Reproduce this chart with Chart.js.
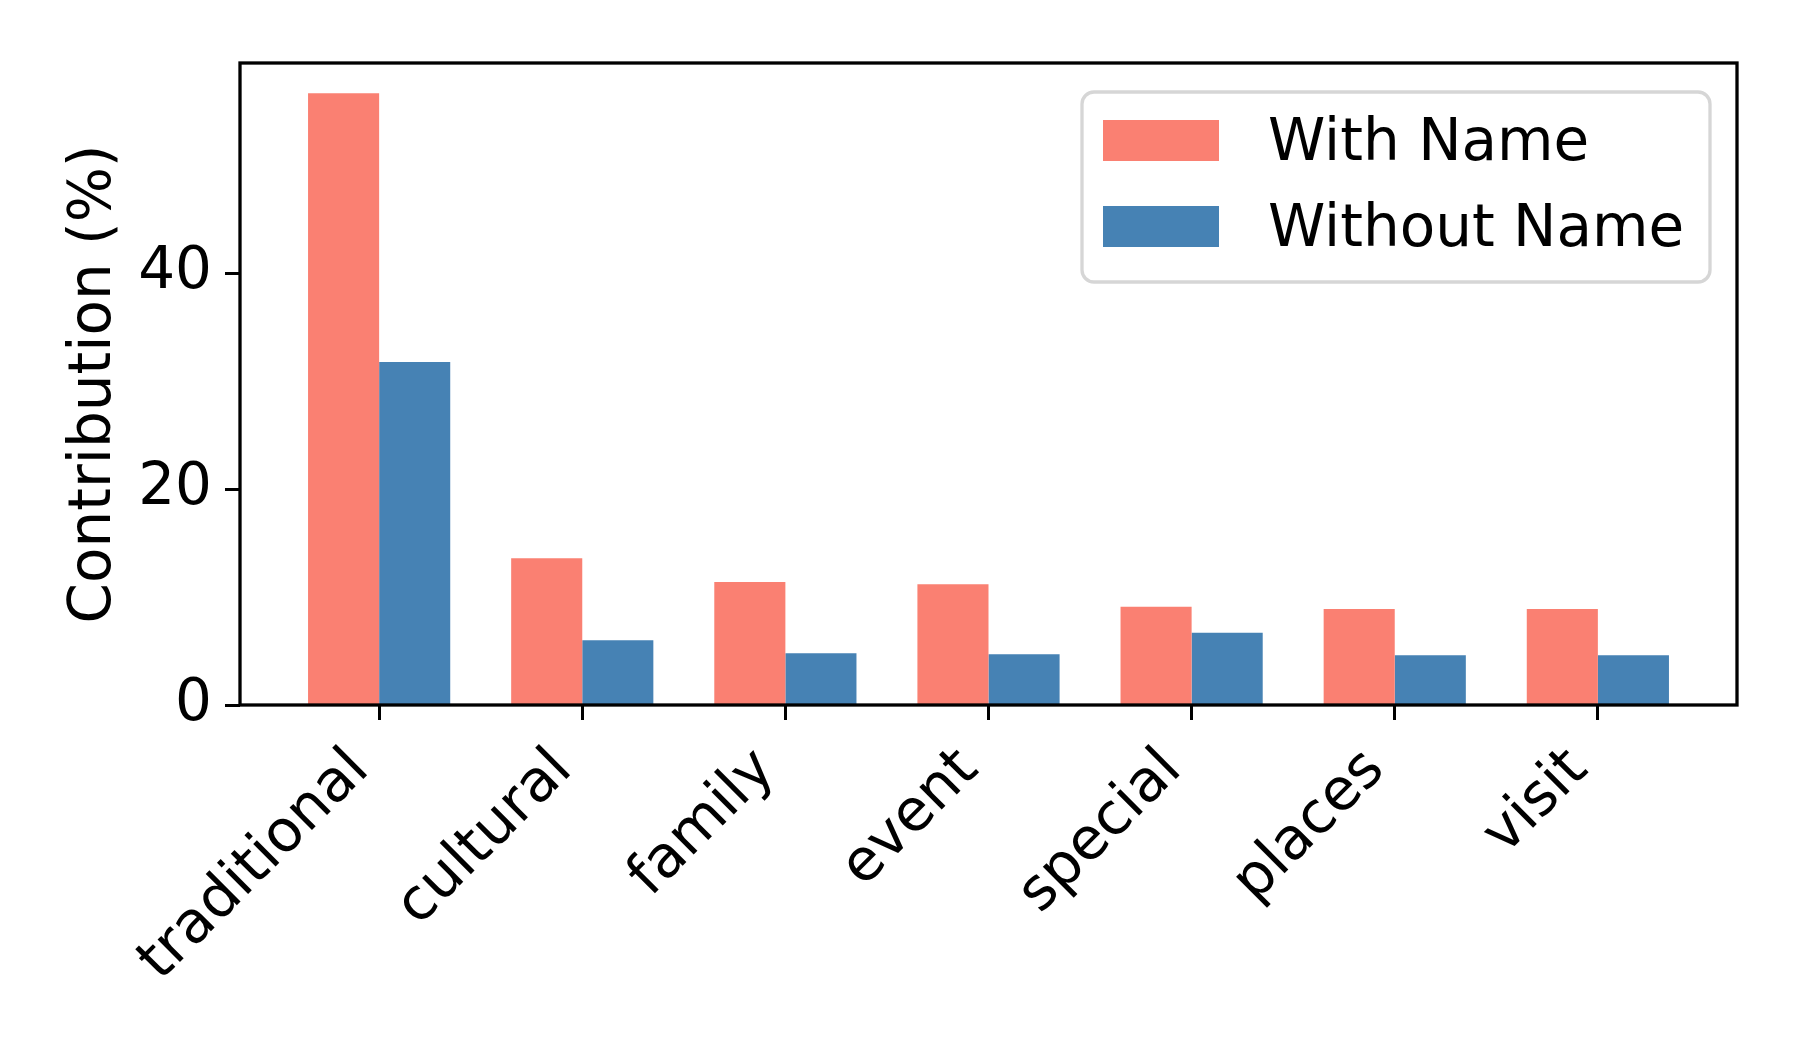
<!DOCTYPE html>
<html><head><meta charset="utf-8">
<script src="https://cdn.jsdelivr.net/npm/chart.js@4.4.0/dist/chart.umd.min.js"></script>
<style>html,body{margin:0;padding:0;background:#fff;} canvas{display:block;}</style>
</head><body>
<canvas id="c" width="1800" height="1050"></canvas>
<script>
const categories = ['traditional','cultural','family','event','special','places','visit'];
const withName = [56.7, 13.6, 11.4, 11.2, 9.1, 8.9, 8.9];
const withoutName = [31.8, 6.0, 4.8, 4.7, 6.7, 4.6, 4.6];
const seriesLabels = ['With Name', 'Without Name'];
const seriesColors = ['#FA8072', '#4682B4'];
const yTicks = [0, 20, 40];
const yMax = 59.5;
const yTitle = 'Contribution (%)';

const FONT = "'DejaVu Sans', sans-serif";
const FS = 58;

const framePlugin = {
  id: 'frame',
  afterDatasetsDraw(chart) {
    const {ctx, chartArea: a} = chart;
    ctx.save();
    ctx.strokeStyle = '#000';
    ctx.lineWidth = 3.3;
    ctx.strokeRect(a.left, a.top, a.right - a.left, a.bottom - a.top);
    ctx.restore();
  }
};

const legendPlugin = {
  id: 'boxLegend',
  afterDraw(chart) {
    const {ctx} = chart;
    const x0 = 1082, y0 = 92, w = 628, h = 190, r = 12;
    ctx.save();
    ctx.beginPath();
    ctx.roundRect(x0, y0, w, h, r);
    ctx.fillStyle = 'rgba(255,255,255,0.8)';
    ctx.fill();
    ctx.strokeStyle = '#d6d6d6';
    ctx.lineWidth = 3.3;
    ctx.stroke();
    ctx.font = FS + 'px ' + FONT;
    ctx.textBaseline = 'middle';
    chart.data.datasets.forEach((ds, i) => {
      const cy = 140.5 + i * 86;
      ctx.fillStyle = ds.backgroundColor;
      ctx.fillRect(1103, cy - 20.5, 116, 41);
      ctx.fillStyle = '#000';
      ctx.fillText(ds.label, 1268, cy + 4);
    });
    ctx.restore();
  }
};

new Chart(document.getElementById('c'), {
  type: 'bar',
  data: {
    datasets: [
      { label: seriesLabels[0], data: categories.map((c, i) => ({x: i, y: withName[i]})), backgroundColor: seriesColors[0], borderWidth: 0 },
      { label: seriesLabels[1], data: categories.map((c, i) => ({x: i, y: withoutName[i]})), backgroundColor: seriesColors[1], borderWidth: 0 }
    ]
  },
  options: {
    responsive: false,
    devicePixelRatio: 1,
    animation: false,
    categoryPercentage: 0.7,
    barPercentage: 1.0,
    layout: { padding: { top: 63, right: 63, left: 0, bottom: 0 } },
    plugins: { legend: { display: false }, tooltip: { enabled: false } },
    scales: {
      x: {
        type: 'linear',
        offset: false,
        min: -0.685,
        max: 6.685,
        afterBuildTicks: (s) => { s.ticks = categories.map((c, i) => ({value: i})); },
        afterFit: (s) => { s.height = 345; },
        grid: { display: true, offset: false, drawOnChartArea: false, drawTicks: true, tickLength: 15, tickWidth: 3, tickColor: '#000' },
        border: { display: false },
        ticks: {
          autoSkip: false, minRotation: 45, maxRotation: 45, padding: 16, labelOffset: -19,
          color: '#000', font: { family: FONT, size: FS },
          callback: (v) => categories[v]
        }
      },
      y: {
        min: 0,
        max: yMax,
        afterBuildTicks: (s) => { s.ticks = yTicks.map(v => ({value: v})); },
        afterFit: (s) => { s.width = 240; },
        grid: { display: true, drawOnChartArea: false, drawTicks: true, tickLength: 15, tickWidth: 3, tickColor: '#000' },
        border: { display: false },
        ticks: { padding: 13, color: '#000', font: { family: FONT, size: FS } },
        title: { display: true, text: yTitle, color: '#000', font: { family: FONT, size: FS }, padding: { top: 60, bottom: 0 } }
      }
    }
  },
  plugins: [framePlugin, legendPlugin]
});
</script>
</body></html>
